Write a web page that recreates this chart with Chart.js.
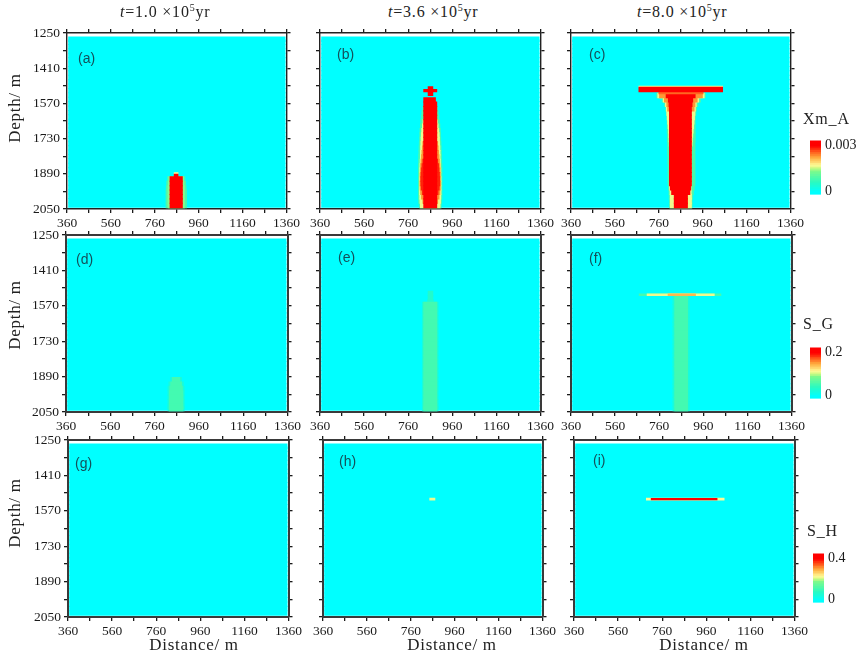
<!DOCTYPE html>
<html>
<head>
<meta charset="utf-8">
<script src="https://cdn.jsdelivr.net/npm/chart.js@4"></script>
<style>
  html, body { margin: 0; background: #fff; }
  #page { position: relative; width: 861px; height: 654px; overflow: hidden; }
  canvas { position: absolute; }
  .txt { position: absolute; white-space: nowrap; font-family: "Liberation Serif", serif; color: #222; }
  .head { font-size: 16px; letter-spacing: 0.8px; }
  .head sup { font-size: 10px; line-height: 0; }
  .letter { font-family: "Liberation Sans", sans-serif; font-size: 14px; color: #14505a; }
  .cbname { font-size: 16px; letter-spacing: 0.8px; }
  .axname { font-size: 17px; letter-spacing: 0.7px; transform: translate(-50%, -50%); }
  .axname.vert { transform: translate(-50%, -50%) rotate(-90deg); }
</style>
</head>
<body>
<div id="page"></div>
<script>
// Axes
const xRange = [360, 1360];
const yRange = [1250, 2050];
const xTickLabels = [360, 560, 760, 960, 1160, 1360];
const yTickLabels = [1250, 1410, 1570, 1730, 1890, 2050];

// Background rows (depth, m)
const bgDepths = [1278, 1292, 1312, 1332, 1352, 1372, 1392, 1412, 1432, 1452, 1472, 1492, 1512, 1532, 1552, 1572, 1592, 1612, 1632, 1652,
  1672, 1692, 1712, 1732, 1752, 1772, 1792, 1812, 1832, 1852, 1872, 1892, 1912, 1932, 1952, 1972, 1992, 2012, 2032];

// Panel (a) Xm_A
const aCoreDepths = [1914, 1934, 1954, 1974, 1994, 2014, 2034];
const aCoreLeft = [829, 829, 829, 829, 829, 829, 829];
const aCoreRight = [886, 886, 886, 886, 886, 886, 886];
const aPaleLeft = [824, 822, 820, 820, 820, 820, 820];
const aPaleRight = [891, 893, 895, 895, 895, 895, 895];
const aMintLeft = [818, 814, 812, 811, 811, 811, 811];
const aMintRight = [897, 901, 903, 905, 905, 905, 905];

// Panel (b) Xm_A
const bCoreDepths = [1554, 1574, 1594, 1614, 1634, 1654, 1674, 1694, 1714, 1734, 1754, 1774, 1794, 1814, 1834, 1854, 1874, 1894, 1914, 1934, 1954, 1974, 1994, 2014, 2034];
const bCoreLeft = [830, 830, 830, 830, 830, 830, 830, 830, 830, 830, 830, 830, 830, 830, 830, 830, 830, 830, 830, 830, 830, 830, 830, 830, 830];
const bCoreRight = [884, 890, 890, 890, 890, 890, 890, 890, 890, 890, 890, 890, 890, 890, 890, 890, 890, 890, 890, 890, 890, 890, 890, 890, 890];
const bMintDepths = [1594, 1614, 1634, 1654, 1674, 1694, 1714, 1734, 1754, 1774, 1794, 1814, 1834, 1854, 1874, 1894, 1914, 1934, 1954, 1974, 1994, 2014, 2034];
const bMintLeft = [826, 822, 820, 817, 815, 813, 812, 811, 810, 809, 808, 807, 807, 806, 806, 806, 806, 806, 806, 806, 806, 807, 810];
const bMintRight = [892, 896, 899, 902, 904, 906, 907, 908, 909, 910, 911, 912, 912, 913, 913, 913, 913, 913, 913, 913, 913, 912, 910];
const bPaleDepths = [1654, 1674, 1694, 1714, 1734, 1754, 1774, 1794, 1814, 1834, 1854, 1874, 1894, 1914, 1934, 1954, 1974, 1994, 2014, 2034];
const bPaleLeft = [827, 824, 821, 819, 818, 817, 816, 815, 815, 814, 813, 812, 812, 811, 811, 811, 811, 812, 813, 815];
const bPaleRight = [893, 896, 899, 901, 902, 903, 904, 905, 905, 906, 907, 908, 908, 909, 909, 909, 909, 908, 907, 905];
const bOrangeDepths = [1754, 1774, 1794, 1814, 1834, 1854, 1874, 1894, 1914, 1934, 1954, 1974, 1994, 2014];
const bOrangeLeft = [826, 824, 822, 820, 818, 816, 815, 814, 814, 813, 814, 816, 820, 826];
const bOrangeRight = [894, 896, 898, 900, 902, 904, 905, 906, 906, 907, 906, 904, 900, 894];
const bRedDepths = [1834, 1854, 1874, 1894, 1914, 1934, 1954, 1974];
const bRedLeft = [826, 822, 820, 818, 817, 817, 819, 824];
const bRedRight = [894, 898, 900, 902, 903, 903, 901, 896];
const bNeckDepths = [1504, 1524];
const bNeckLeft = [850, 850];
const bNeckRight = [872, 872];
const bBarDepths = [1512];
const bBarLeft = [830];
const bBarRight = [890];

// Panel (c) Xm_A
const cStemDepths = [1534, 1554, 1574, 1594, 1614, 1634, 1654, 1674, 1694, 1714, 1734, 1754, 1774, 1794, 1814, 1834, 1854, 1874, 1894, 1914, 1934, 1954, 1974, 1994, 2014, 2034];
const cCoreLeft = [793, 803, 806, 808, 808, 808, 808, 808, 808, 808, 808, 808, 808, 808, 808, 808, 808, 808, 808, 808, 808, 812, 818, 830, 830, 830];
const cCoreRight = [926, 915, 912, 909, 909, 909, 909, 909, 909, 909, 909, 909, 909, 909, 909, 909, 909, 909, 909, 909, 909, 906, 902, 891, 891, 891];
const cMintLeft = [750, 775, 786, 792, 795, 797, 798, 798, 798, 799, 799, 800, 800, 800, 801, 801, 802, 802, 802, 802, 802, 804, 806, 807, 808, 808];
const cMintRight = [972, 950, 938, 932, 929, 927, 926, 926, 926, 926, 926, 925, 925, 925, 925, 925, 925, 925, 925, 925, 925, 922, 918, 914, 912, 912];
const cPaleLeft = [755, 780, 790, 794, 796, 798, 800, 802, 804, 805, 806, 807, 808, 808, 808, 808, 808, 808, 808, 808, 808, 808, 811, 812, 812, 812];
const cPaleRight = [967, 942, 931, 927, 925, 923, 921, 919, 917, 915, 913, 912, 909, 909, 909, 909, 909, 909, 909, 909, 909, 908, 908, 909, 909, 909];
const cOrangeDepths = [1534, 1554, 1574, 1594];
const cOrangeLeft = [763, 785, 796, 800];
const cOrangeRight = [959, 935, 925, 921];
const cFlareDepths = [1522];
const cFlareLeft = [760];
const cFlareRight = [962];
const cCapDepths = [1507];
const cCapLeft = [669];
const cCapRight = [1051];
const cCapEdgeDepths = [1494];

// Panel (d) S_G
const dDepths = [1904, 1924, 1944, 1964, 1984, 2004, 2024, 2034];
const dLeft = [840, 832, 828, 826, 826, 826, 826, 826];
const dRight = [874, 882, 886, 888, 888, 888, 888, 888];
const dFaintLeft = [832, 824, 820, 820, 820, 820, 820, 820];
const dFaintRight = [882, 890, 894, 894, 894, 894, 894, 894];

// Panel (e) S_G
const eDepths = [1564, 1584, 1604, 1624, 1644, 1664, 1684, 1704, 1724, 1744, 1764, 1784, 1804, 1824, 1844, 1864, 1884, 1904, 1924, 1944, 1964, 1984, 2004, 2024, 2034];
const eLeft = [830, 830, 830, 830, 830, 830, 830, 830, 830, 830, 830, 830, 830, 830, 830, 830, 830, 830, 830, 830, 830, 830, 830, 830, 830];
const eRight = [890, 890, 890, 890, 890, 890, 890, 890, 890, 890, 890, 890, 890, 890, 890, 890, 890, 890, 890, 890, 890, 890, 890, 890, 890];
const eFaintLeft = [824, 824, 824, 824, 824, 824, 824, 824, 824, 824, 824, 824, 824, 824, 824, 824, 824, 824, 824, 824, 824, 824, 824, 824, 824];
const eFaintRight = [896, 896, 896, 896, 896, 896, 896, 896, 896, 896, 896, 896, 896, 896, 896, 896, 896, 896, 896, 896, 896, 896, 896, 896, 896];
const eNeckDepths = [1514, 1534, 1554];
const eNeckLeft = [850, 850, 848];
const eNeckRight = [872, 872, 874];

// Panel (f) S_G
const fDepths = [1534, 1554, 1574, 1594, 1614, 1634, 1654, 1674, 1694, 1714, 1734, 1754, 1774, 1794, 1814, 1834, 1854, 1874, 1894, 1914, 1934, 1954, 1974, 1994, 2014, 2034];
const fLeft = [830, 830, 830, 830, 830, 830, 830, 830, 830, 830, 830, 830, 830, 830, 830, 830, 830, 830, 830, 830, 830, 830, 830, 830, 830, 830];
const fRight = [889, 889, 889, 889, 889, 889, 889, 889, 889, 889, 889, 889, 889, 889, 889, 889, 889, 889, 889, 889, 889, 889, 889, 889, 889, 889];
const fFaintLeft = [822, 822, 822, 822, 822, 822, 822, 822, 822, 822, 822, 822, 822, 822, 822, 822, 822, 822, 822, 822, 822, 822, 822, 822, 822, 822];
const fFaintRight = [897, 897, 897, 897, 897, 897, 897, 897, 897, 897, 897, 897, 897, 897, 897, 897, 897, 897, 897, 897, 897, 897, 897, 897, 897, 897];
const fLineDepths = [1520];
const fLineLeft = [669];
const fLineRight = [1040];
const fPaleLeft = [705];
const fPaleRight = [1010];
const fOrangeLeft = [800];
const fOrangeRight = [925];

// Panel (h) and (i) S_H
const hDotDepths = [1517];
const hDotLeft = [846];
const hDotRight = [870];
const iLineDepths = [1517];
const iEdgeLeft = [688];
const iEdgeRight = [1041];
const iLineLeft = [710];
const iLineRight = [1009];

// Colour bar cells, as fraction of the bar's top value
const barLevels = [-0.07, -0.03, 0.01, 0.05, 0.09, 0.13, 0.17, 0.21, 0.25, 0.29, 0.33, 0.37, 0.41, 0.45, 0.49, 0.53, 0.57, 0.61, 0.65, 0.69, 0.73, 0.77, 0.81, 0.85, 0.89, 0.93, 0.97, 1.01, 1.05, 1.09];
const xmMax = 0.003;
const sgMax = 0.2;
const shMax = 0.4;

// Colormap
const CMAP = [
  [0, 0, 255, 255], [0.2, 40, 250, 195], [0.45, 125, 250, 140], [0.52, 205, 250, 130], [0.58, 255, 250, 150],
  [0.75, 255, 170, 60], [0.9, 255, 70, 20], [1, 255, 0, 0]
];
function cmap(f) {
  f = Math.max(0, Math.min(1, f));
  for (let i = 1; i < CMAP.length; i++) {
    if (f <= CMAP[i][0]) {
      const a = CMAP[i - 1], b = CMAP[i], t = (f - a[0]) / (b[0] - a[0]);
      return `rgb(${[1, 2, 3].map(k => Math.round(a[k] + (b[k] - a[k]) * t)).join(',')})`;
    }
  }
  return 'rgb(255,0,0)';
}

// One block of floating bars, one bar per depth row
function layer(depths, lefts, rights, fraction, thick = 4.8) {
  return {
    data: depths.map((d, i) => ({ y: d, x: [lefts[i], rights[i]] })),
    backgroundColor: cmap(fraction),
    borderWidth: 0,
    barThickness: thick,
    grouped: false
  };
}
const rep = (arr, v) => arr.map(() => v);

const panels = [
  { tag: '(a)', box: [67, 33, 288, 209], col: 0, row: 0, layers: [
    layer(aCoreDepths, aMintLeft, aMintRight, 0.3),
    layer(aCoreDepths, aPaleLeft, aPaleRight, 0.46),
    layer(aCoreDepths, aCoreLeft, aCoreRight, 1),
    layer([1888], [848], [866], 0.58, 1.6),
    layer([1898], [848], [866], 1, 2.8)
  ], letter: [78, 50] },
  { tag: '(b)', box: [320, 33, 542, 209], col: 1, row: 0, layers: [
    layer(bMintDepths, bMintLeft, bMintRight, 0.3),
    layer(bPaleDepths, bPaleLeft, bPaleRight, 0.56),
    layer(bOrangeDepths, bOrangeLeft, bOrangeRight, 0.78),
    layer(bRedDepths, bRedLeft, bRedRight, 0.95),
    layer(bCoreDepths, bCoreLeft, bCoreRight, 1),
    layer(bNeckDepths, bNeckLeft, bNeckRight, 1),
    layer(bBarDepths, bBarLeft, bBarRight, 1, 2.8)
  ], letter: [337, 46] },
  { tag: '(c)', box: [571, 33, 792, 209], col: 2, row: 0, layers: [
    layer(cStemDepths, cMintLeft, cMintRight, 0.3),
    layer(cStemDepths, cPaleLeft, cPaleRight, 0.56),
    layer(cOrangeDepths, cOrangeLeft, cOrangeRight, 0.78),
    layer(cStemDepths, cCoreLeft, cCoreRight, 1),
    layer(cFlareDepths, cFlareLeft, cFlareRight, 0.85, 2),
    layer(cCapEdgeDepths, cCapLeft, cCapRight, 0.56, 1),
    layer(cCapDepths, cCapLeft, cCapRight, 1)
  ], letter: [589, 46] },
  { tag: '(d)', box: [66, 235, 289, 412], col: 0, row: 1, layers: [
    layer(dDepths, dFaintLeft, dFaintRight, 0.12),
    layer(dDepths, dLeft, dRight, 0.28)
  ], letter: [76, 251] },
  { tag: '(e)', box: [320, 235, 542, 412], col: 1, row: 1, layers: [
    layer(eNeckDepths, eNeckLeft, eNeckRight, 0.17),
    layer(eDepths, eFaintLeft, eFaintRight, 0.12),
    layer(eDepths, eLeft, eRight, 0.28)
  ], letter: [338, 249] },
  { tag: '(f)', box: [571, 235, 793, 412], col: 2, row: 1, layers: [
    layer(fDepths, fFaintLeft, fFaintRight, 0.12),
    layer(fDepths, fLeft, fRight, 0.28),
    layer(fLineDepths, fLineLeft, fLineRight, 0.28, 2),
    layer(fLineDepths, fPaleLeft, fPaleRight, 0.56, 2),
    layer(fLineDepths, fOrangeLeft, fOrangeRight, 0.72, 2)
  ], letter: [589, 250] },
  { tag: '(g)', box: [68, 440, 290, 617], col: 0, row: 2, layers: [], letter: [75, 455] },
  { tag: '(h)', box: [323, 440, 544, 617], col: 1, row: 2, layers: [
    layer(hDotDepths, hDotLeft, hDotRight, 0.56, 2)
  ], letter: [339, 453] },
  { tag: '(i)', box: [574, 440, 796, 617], col: 2, row: 2, layers: [
    layer(iLineDepths, iEdgeLeft, iEdgeRight, 0.58, 2.2),
    layer(iLineDepths, iLineLeft, iLineRight, 1, 1.6)
  ], letter: [593, 452] }
];

const headings = [
  { value: '1.0', x: 120 },
  { value: '3.6', x: 388 },
  { value: '8.0', x: 637 }
];

const depthNames = [108, 315, 513];
const distanceNames = [194, 452, 704];

const colorBars = [
  { name: 'Xm_A', top: xmMax, label: '0.003', box: [810, 134, 821, 201], nameAt: [803, 110] },
  { name: 'S_G', top: sgMax, label: '0.2', box: [810, 341, 821, 405], nameAt: [803, 315] },
  { name: 'S_H', top: shMax, label: '0.4', box: [813, 547, 824, 609], nameAt: [807, 522] }
];

const page = document.getElementById('page');
const SERIF = 'Liberation Serif';
const tickFont = { family: SERIF, size: 13.5 };
const INK = '#1a1a1a';

function addCanvas(left, top, w, h) {
  const c = document.createElement('canvas');
  c.width = w; c.height = h;
  c.style.left = left + 'px'; c.style.top = top + 'px';
  c.style.width = w + 'px'; c.style.height = h + 'px';
  page.appendChild(c);
  return c;
}

function addText(cls, left, top, html) {
  const d = document.createElement('div');
  d.className = 'txt ' + cls;
  d.style.left = left + 'px'; d.style.top = top + 'px';
  d.innerHTML = html;
  page.appendChild(d);
}

function frameAxis(axis, position, range, step, size, row) {
  return {
    type: 'linear', axis, position, min: range[0], max: range[1], offset: false,
    reverse: axis === 'y',
    ticks: { display: false, stepSize: step, autoSkip: false },
    grid: { drawOnChartArea: false, offset: false, color: INK, tickLength: 4, lineWidth: 1.3 },
    border: { display: true, color: row === 0 ? '#222' : '#3a3a3a', width: row === 0 ? 1.4 : 2 },
    afterFit: s => { if (axis === 'x') s.height = size; else s.width = size; }
  };
}

function drawPanel(p) {
  const [x0, y0, x1, y1] = p.box;
  const lm = 46, tm = 12, rm = 14, bm = 26;
  const canvas = addCanvas(x0 - lm, y0 - tm, x1 - x0 + lm + rm, y1 - y0 + tm + bm);
  const bg = layer(bgDepths, rep(bgDepths, 367), rep(bgDepths, 1354), 0);
  const datasets = [bg, ...p.layers].map((d, i) => ({ ...d, order: -i }));

  const xAxis = frameAxis('x', 'bottom', xRange, 100, bm, p.row);
  xAxis.ticks = { display: true, stepSize: 100, autoSkip: false, maxRotation: 0, font: tickFont, color: INK, padding: 2,
    callback: v => xTickLabels.includes(v) ? String(v) : '' };

  const yAxis = frameAxis('y', 'left', yRange, 80, lm, p.row);
  if (p.col === 0) {
    yAxis.ticks = { display: true, stepSize: 80, autoSkip: false, font: tickFont, color: INK, padding: 3,
      callback: v => yTickLabels.includes(v) ? String(v) : '' };
  }

  new Chart(canvas, {
    type: 'bar',
    data: { datasets },
    options: {
      indexAxis: 'y',
      responsive: false,
      animation: false,
      events: [],
      layout: { padding: 0 },
      plugins: { legend: { display: false }, tooltip: { enabled: false } },
      scales: {
        x: xAxis,
        y: yAxis,
        xTop: frameAxis('x', 'top', xRange, 100, tm, p.row),
        yRight: frameAxis('y', 'right', yRange, 80, rm, p.row)
      }
    }
  });
  addText('letter', p.letter[0], p.letter[1], p.tag);
}

function drawColorBar(b) {
  const [x0, y0, x1, y1] = b.box;
  const lm = 2, rm = 861 - x1;
  const canvas = addCanvas(x0 - lm, y0 - 6, x1 - x0 + lm + rm, y1 - y0 + 12);
  const span = y1 - y0;
  new Chart(canvas, {
    type: 'bar',
    data: { datasets: [{
      data: barLevels.map(f => ({ y: f * b.top, x: [0, 1] })),
      backgroundColor: barLevels.map(f => cmap(f)),
      borderWidth: 0,
      barThickness: 2.6
    }] },
    options: {
      indexAxis: 'y',
      responsive: false,
      animation: false,
      events: [],
      layout: { padding: { left: lm, top: 6, bottom: 6 } },
      plugins: { legend: { display: false }, tooltip: { enabled: false } },
      scales: {
        x: { type: 'linear', min: 0, max: 1, offset: false, display: false },
        y: {
          type: 'linear', position: 'right', offset: false,
          min: -0.07 * b.top, max: (span - 4) / (span - 10) * b.top,
          grid: { display: false, offset: false, drawTicks: false },
          border: { display: false },
          afterBuildTicks: s => { s.ticks = [{ value: 0 }, { value: b.top }]; },
          afterFit: s => { s.width = rm; },
          ticks: { font: { family: SERIF, size: 14 }, color: INK, padding: 4, callback: v => v === 0 ? '0' : b.label }
        }
      }
    }
  });
  addText('cbname', b.nameAt[0], b.nameAt[1], b.name);
}

panels.forEach(drawPanel);
colorBars.forEach(drawColorBar);
headings.forEach(h => addText('head', h.x, 3, `<i>t</i>=${h.value} ×10<sup>5</sup>yr`));
depthNames.forEach(y => addText('axname vert', 15, y, 'Depth/ m'));
distanceNames.forEach(x => addText('axname', x, 645, 'Distance/ m'));
</script>
</body>
</html>
